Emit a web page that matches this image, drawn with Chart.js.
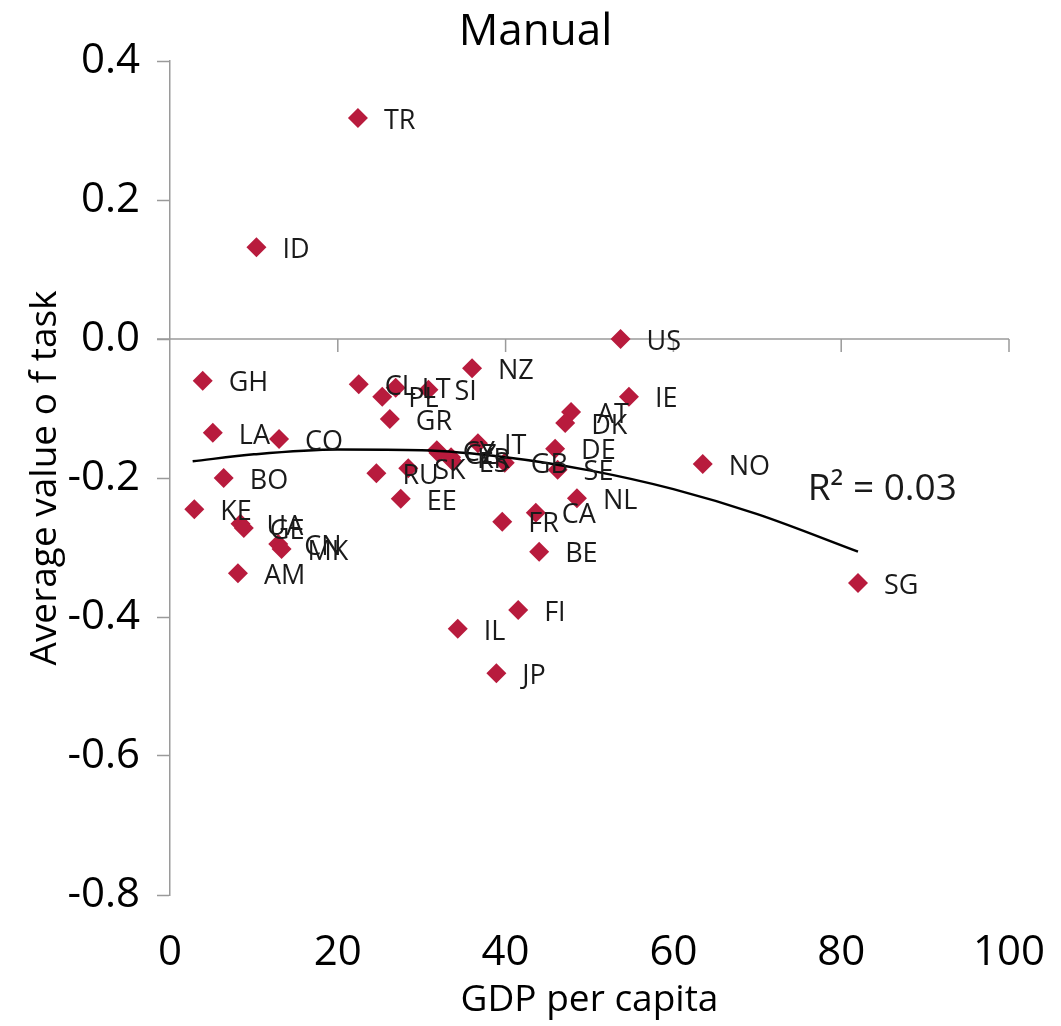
<!DOCTYPE html>
<html>
<head>
<meta charset="utf-8">
<script src="https://cdn.jsdelivr.net/npm/chart.js@4.4.1/dist/chart.umd.min.js"></script>
<style>
  html, body { margin: 0; padding: 0; background: #ffffff; }
  #wrap { width: 1061px; height: 1026px; }
</style>
</head>
<body>
<div id="wrap"><canvas id="chart" width="1061" height="1026"></canvas></div>
<script>
// Country codes, GDP per capita (thousands) and average value of the manual task
const countries = ['TR','ID','US','NZ','GH','IE','CL','PL','LT','SI','GR','LA','CO','BO','KE','UA','GE','CN','MK','AM',
                   'RU','SK','EE','CY','CZ','KR','ES','IT','GB','DE','AT','DK','SE','NO','NL','CA','FR','BE','FI','IL','JP','SG'];
const gdpPerCapita = [22.4,10.3,53.7,36.0,3.9,54.7,22.5,25.3,26.9,30.8,26.2,5.1,13.0,6.4,2.9,8.4,8.8,12.9,13.3,8.1,
                      24.6,28.4,27.5,31.8,32.0,33.5,33.7,36.7,39.9,45.9,47.8,47.1,46.2,63.5,48.5,43.6,39.6,44.0,41.5,34.3,38.9,82.0];
const taskValue = [0.318,0.132,0.000,-0.042,-0.060,-0.083,-0.065,-0.083,-0.070,-0.073,-0.115,-0.135,-0.144,-0.200,-0.245,-0.266,-0.272,-0.295,-0.302,-0.337,
                   -0.193,-0.186,-0.230,-0.160,-0.164,-0.170,-0.176,-0.150,-0.178,-0.158,-0.105,-0.121,-0.188,-0.180,-0.229,-0.250,-0.263,-0.306,-0.390,-0.417,-0.481,-0.351];

// Polynomial trend line, sampled along its length
const trendGdp = [2.7, 10, 20, 30, 40, 50, 60, 70, 82];
const trendValue = [-0.176, -0.166, -0.159, -0.160, -0.170, -0.189, -0.216, -0.252, -0.306];
const rSquaredLabel = 'R\u00B2 = 0.03';
const rSquaredAt = { x: 76.0, y: -0.217 };

// Axis ticks
const xTicks = [0, 20, 40, 60, 80, 100];
const yTicks = [-0.8, -0.6, -0.4, -0.2, 0.0, 0.2, 0.4];

const chartTitle = 'Manual';
const AXIS_GREY = '#9a9a9a';
const MARKER = '#B81B3D';
const SANS = "'Open Sans', 'DejaVu Sans', sans-serif";

const points = countries.map((c, i) => ({ x: gdpPerCapita[i], y: taskValue[i], code: c }));
const trend = trendGdp.map((g, i) => ({ x: g, y: trendValue[i] }));

// Horizontal axis line drawn through y = 0, with tick marks hanging below it
const zeroAxis = {
  id: 'zeroAxis',
  beforeDatasetsDraw(chart) {
    const { ctx, chartArea, scales } = chart;
    const y0 = scales.y.getPixelForValue(0);
    ctx.save();
    ctx.strokeStyle = AXIS_GREY;
    ctx.lineWidth = 1.5;
    ctx.beginPath();
    ctx.moveTo(chartArea.left - 13, y0);
    ctx.lineTo(chartArea.right, y0);
    xTicks.forEach(v => {
      if (v === 0) return;
      const x = scales.x.getPixelForValue(v);
      ctx.moveTo(x, y0);
      ctx.lineTo(x, y0 + 13);
    });
    ctx.stroke();
    ctx.restore();
  }
};

// Title, country code beside each marker, and the fit statistic
const textLayer = {
  id: 'textLayer',
  afterDatasetsDraw(chart) {
    const { ctx, scales } = chart;
    ctx.save();
    ctx.fillStyle = '#000000';
    ctx.textAlign = 'center';
    ctx.textBaseline = 'alphabetic';
    ctx.font = '44px ' + SANS;
    ctx.fillText(chartTitle, chart.width / 2 + 5, 45);

    ctx.fillStyle = '#1a1a1a';
    ctx.textAlign = 'left';
    ctx.textBaseline = 'middle';
    ctx.font = '27px ' + SANS;
    points.forEach(p => {
      const px = scales.x.getPixelForValue(p.x);
      const py = scales.y.getPixelForValue(p.y);
      ctx.fillText(p.code, px + 26, py + 3);
    });
    ctx.font = '37px ' + SANS;
    ctx.fillText(rSquaredLabel, scales.x.getPixelForValue(rSquaredAt.x), scales.y.getPixelForValue(rSquaredAt.y));
    ctx.restore();
  }
};

new Chart(document.getElementById('chart'), {
  type: 'scatter',
  data: {
    datasets: [
      {
        label: 'Trend',
        data: trend,
        showLine: true,
        borderColor: '#000000',
        borderWidth: 2.5,
        pointRadius: 0,
        tension: 0.4,
        cubicInterpolationMode: 'monotone',
        order: 0
      },
      {
        label: chartTitle,
        data: points,
        pointStyle: 'rectRot',
        pointRadius: 10,
        pointHoverRadius: 10,
        backgroundColor: MARKER,
        borderColor: MARKER,
        borderWidth: 0,
        order: 1
      }
    ]
  },
  options: {
    responsive: false,
    animation: false,
    events: [],
    layout: { padding: { left: 0, right: 52, top: 61, bottom: 0 } },
    plugins: {
      legend: { display: false },
      tooltip: { enabled: false },
      title: { display: false }
    },
    scales: {
      x: {
        type: 'linear',
        min: 0,
        max: 100,
        afterBuildTicks: s => { s.ticks = xTicks.map(v => ({ value: v })); },
        afterFit: s => { s.height = 131; },
        grid: {
          display: true,
          drawOnChartArea: false,
          drawTicks: true,
          tickLength: 33,
          tickColor: 'rgba(0,0,0,0)'
        },
        border: { display: false },
        ticks: {
          color: '#000000',
          padding: 0,
          maxRotation: 0,
          font: { family: SANS, size: 42 },
          callback: v => String(v)
        },
        title: {
          display: true,
          text: 'GDP per capita',
          color: '#000000',
          font: { family: SANS, size: 37 },
          padding: { top: 0, bottom: 3 }
        }
      },
      y: {
        type: 'linear',
        min: -0.8,
        max: 0.4,
        afterBuildTicks: s => { s.ticks = yTicks.map(v => ({ value: v })); },
        afterFit: s => { s.width = 170; },
        grid: {
          display: true,
          drawOnChartArea: false,
          drawTicks: true,
          tickLength: 13,
          tickColor: AXIS_GREY,
          tickWidth: 1.5,
          color: AXIS_GREY
        },
        border: { display: true, color: AXIS_GREY, width: 1.5 },
        ticks: {
          color: '#000000',
          padding: 17,
          font: { family: SANS, size: 42 },
          callback: v => (Math.abs(v) < 1e-9 ? '0.0' : Number(v).toFixed(1))
        },
        title: {
          display: true,
          text: 'Average value o f task',
          color: '#000000',
          font: { family: SANS, size: 37 },
          padding: { top: 23, bottom: 0 }
        }
      }
    }
  },
  plugins: [zeroAxis, textLayer]
});
</script>
</body>
</html>
